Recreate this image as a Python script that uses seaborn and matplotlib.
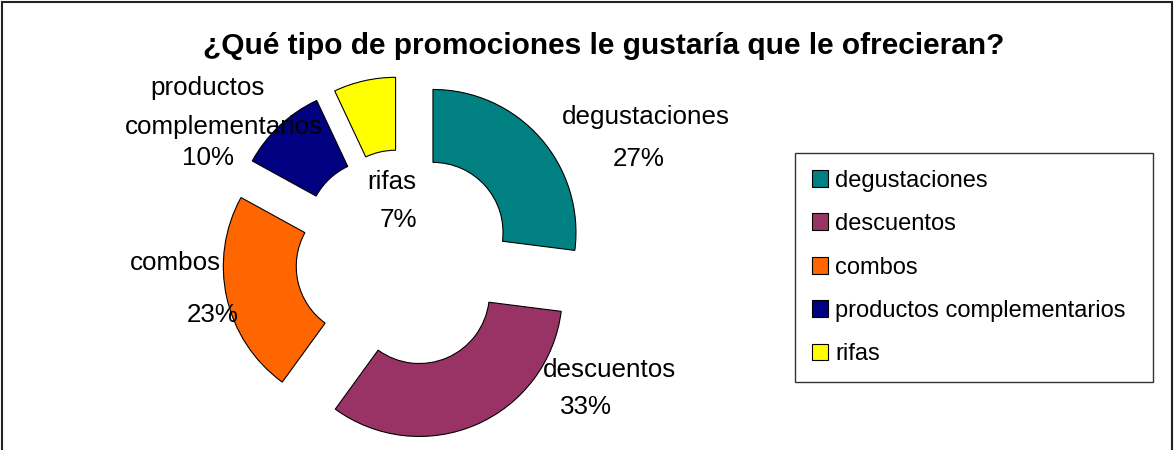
import matplotlib
matplotlib.use("Agg")
import matplotlib.pyplot as plt
import seaborn as sns
from matplotlib.lines import Line2D

# data
categories = ["degustaciones", "descuentos", "combos", "productos complementarios", "rifas"]
percent = [27, 33, 23, 10, 7]
colors = ["#008080", "#993366", "#FF6600", "#000080", "#FFFF00"]
# data labels as shown on the chart (name can wrap on two lines)
label_names = [["degustaciones"], ["descuentos"], ["combos"], ["productos", "complementarios"], ["rifas"]]
title = "¿Qué tipo de promociones le gustaría que le ofrecieran?"

# label positions in pixels (x, y from top-left)
name_pos = [[(646, 117)], [(610, 370)], [(175, 263)], [(208, 88), (224, 127)], [(392, 182)]]
pct_pos = [(639, 159), (586, 407), (213, 315), (208, 158), (398, 220)]

sns.set_theme(style="white")
plt.rcParams["font.family"] = ["Liberation Sans", "DejaVu Sans"]
plt.rcParams["text.color"] = "black"

W, H = 1174, 450
fig = plt.figure(figsize=(W / 100, H / 100), dpi=100)
fig.patch.set_facecolor("white")

# place the pie so radius 1 is ~143 px and centre at (404, 258)
R = 143
cx, cy = 404, 258
span = 1.6
ax = fig.add_axes([(cx - span * R) / W, (H - cy - span * R) / H, 2 * span * R / W, 2 * span * R / H])
wedges, _ = ax.pie(percent, colors=colors, startangle=90, counterclock=False,
                   explode=[0.27] * len(percent),
                   wedgeprops=dict(width=0.51, edgecolor="black", linewidth=0.8))
ax.set_xlim(-span, span)
ax.set_ylim(-span, span)
ax.axis("off")

def px(x, y):
    return x / W, 1 - y / H

# data labels
for names, npos, p, ppos in zip(label_names, name_pos, percent, pct_pos):
    for n, (x, y) in zip(names, npos):
        fig.text(*px(x, y), n, ha="center", va="center", fontsize=18.7, color="black")
    fig.text(*px(*ppos), f"{p}%", ha="center", va="center", fontsize=18.7, color="black")

fig.text(*px(604, 46), title, ha="center", va="center", fontsize=21.5,
         fontweight="bold", color="black")

leg = fig.legend(wedges, categories, loc="upper left",
                 bbox_to_anchor=(795 / W, 1 - 380 / H, 358 / W, 227 / H), mode="expand",
                 bbox_transform=fig.transFigure, frameon=True, fancybox=False,
                 edgecolor="black", fontsize=17, handlelength=0.7, handleheight=0.7,
                 handletextpad=0.3, labelspacing=0.91, borderpad=0.7, borderaxespad=0,
                 labelcolor="black")
leg.get_frame().set_linewidth(1.0)

# outer chart border (top, left, right)
for xs, ys in [([0.002, 0.998], [0.996, 0.996]), ([0.002, 0.002], [0, 0.996]), ([0.998, 0.998], [0, 0.996])]:
    fig.add_artist(Line2D(xs, ys, transform=fig.transFigure, color="#222222", lw=1.5))

fig.savefig("out.png", dpi=100)
